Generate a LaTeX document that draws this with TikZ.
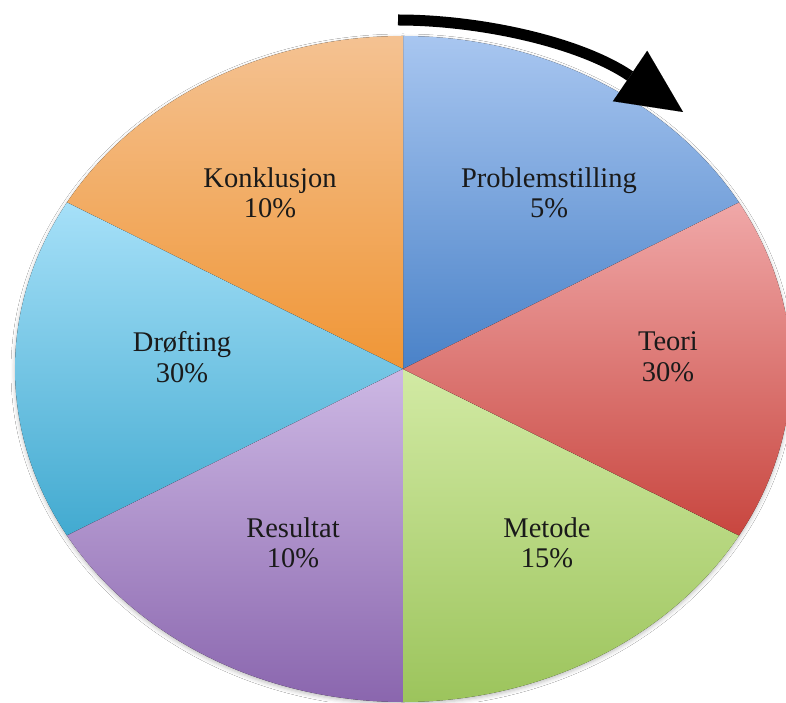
\documentclass[tikz,border=0pt]{standalone}
\usepackage{fontspec}
\setmainfont{Liberation Serif}
\usetikzlibrary{arrows.meta,shadows.blur}
\definecolor{txt}{HTML}{1A1A1A}
\definecolor{bluetop}{HTML}{A8C6F0}
\definecolor{bluebot}{HTML}{4A82C8}
\definecolor{redtop}{HTML}{F0A8A8}
\definecolor{redbot}{HTML}{C8463F}
\definecolor{greentop}{HTML}{D2EAA4}
\definecolor{greenbot}{HTML}{9CC45C}
\definecolor{purpletop}{HTML}{CDB8E4}
\definecolor{purplebot}{HTML}{8A66AE}
\definecolor{cyantop}{HTML}{A6E0F8}
\definecolor{cyanbot}{HTML}{42AAD0}
\definecolor{orangetop}{HTML}{F4C292}
\definecolor{orangebot}{HTML}{F09636}
\tikzset{
  lbl/.style={align=center, text=txt, font=\fontsize{28.5}{30.5}\selectfont, inner sep=0pt},
  sector/.style 2 args={top color=#1, bottom color=#2, draw=none},
  flowarrow/.style={line width=11pt, line cap=butt, -{Triangle[length=64pt,width=61pt,line width=0.01pt,fill=black]}}
}
\begin{document}
\begin{tikzpicture}[x=1pt,y=1pt]
\clip (0,0) rectangle (786,702);
\fill[white] (0,0) rectangle (786,702);
\coordinate (c) at (403,333);
% shadow
\fill[white, blur shadow={shadow xshift=0pt, shadow yshift=-2pt, shadow blur radius=4pt, shadow opacity=25}]
  (c) ellipse [x radius=388, y radius=333];
% sectors
\fill[sector={bluetop}{bluebot}] (c) -- +(30:388 and 333) arc[start angle=30, end angle=90, x radius=388, y radius=333] -- cycle;
\fill[sector={orangetop}{orangebot}] (c) -- +(90:388 and 333) arc[start angle=90, end angle=150, x radius=388, y radius=333] -- cycle;
\fill[sector={cyantop}{cyanbot}] (c) -- +(150:388 and 333) arc[start angle=150, end angle=210, x radius=388, y radius=333] -- cycle;
\fill[sector={purpletop}{purplebot}] (c) -- +(210:388 and 333) arc[start angle=210, end angle=270, x radius=388, y radius=333] -- cycle;
\fill[sector={greentop}{greenbot}] (c) -- +(270:388 and 333) arc[start angle=270, end angle=330, x radius=388, y radius=333] -- cycle;
\fill[sector={redtop}{redbot}] (c) -- +(-30:388 and 333) arc[start angle=-30, end angle=30, x radius=388, y radius=333] -- cycle;
% labels
\node[lbl] (problem) at (549,509) {Problemstilling\\5\%};
\node[lbl] (konkl) at (270,509) {Konklusjon\\10\%};
\node[lbl] (drofting) at (182,345) {Drøfting\\30\%};
\node[lbl] (teori) at (668,345) {Teori\\30\%};
\node[lbl] (resultat) at (293,159) {Resultat\\10\%};
\node[lbl] (metode) at (547,159) {Metode\\15\%};
% arrow
\coordinate (arrowStart) at (398,682);
\coordinate (arrowTip) at (683,590);
\draw[flowarrow] (arrowStart) .. controls (480,682) and (580,660) .. (arrowTip);
\end{tikzpicture}
\end{document}
